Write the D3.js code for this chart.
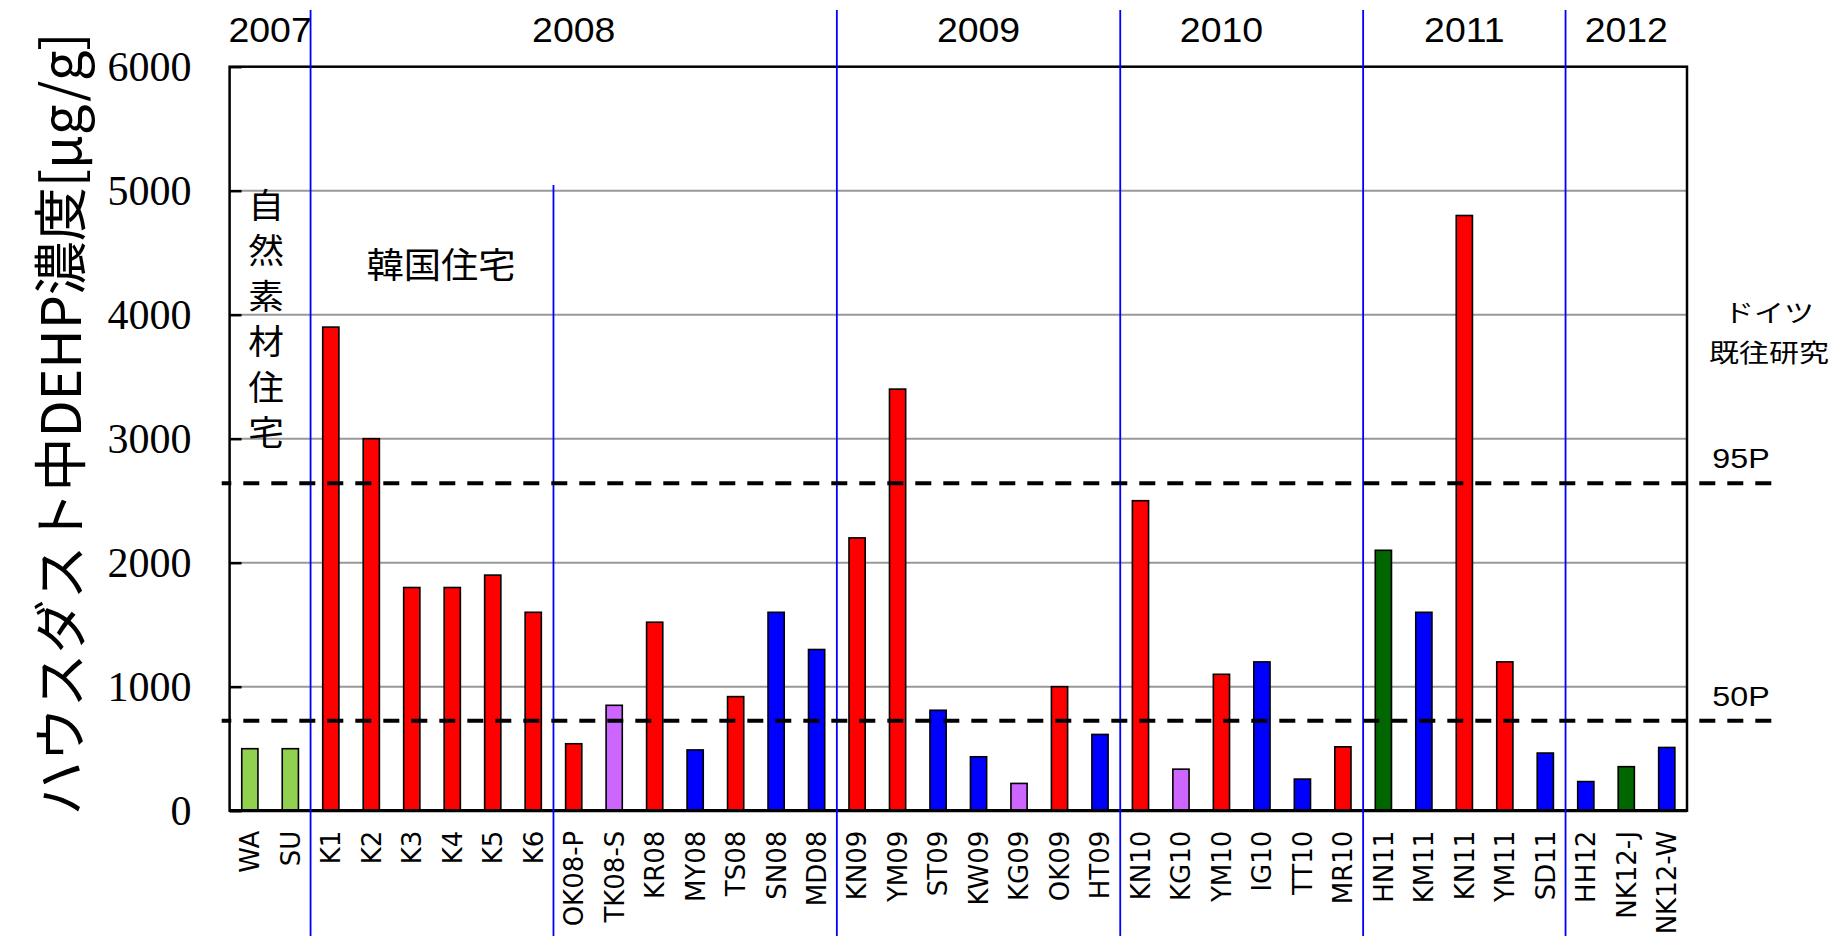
<!DOCTYPE html>
<html>
<head>
<meta charset="utf-8">
<script src="https://cdn.jsdelivr.net/npm/d3@7/dist/d3.min.js"></script>
<style>
  body { margin: 0; background: #fff; }
</style>
</head>
<body>
<div id="chart"></div>
<script>
// sample names, DEHP values [ug/g] and bar kind
var categories = ["WA", "SU", "K1", "K2", "K3", "K4", "K5", "K6", "OK08-P", "TK08-S", "KR08", "MY08",
  "TS08", "SN08", "MD08", "KN09", "YM09", "ST09", "KW09", "KG09", "OK09", "HT09", "KN10", "KG10",
  "YM10", "IG10", "TT10", "MR10", "HN11", "KM11", "KN11", "YM11", "SD11", "HH12", "NK12-J", "NK12-W"];
var values = [500, 500, 3900, 3000, 1800, 1800, 1900, 1600, 540, 850, 1520, 490,
  920, 1600, 1300, 2200, 3400, 810, 435, 220, 1000, 615, 2500, 335,
  1100, 1200, 255, 515, 2100, 1600, 4800, 1200, 465, 235, 355, 510];
var kinds = ["nat", "nat", "red", "red", "red", "red", "red", "red", "red", "purple", "red", "blue",
  "red", "blue", "blue", "red", "red", "blue", "blue", "purple", "red", "blue", "red", "purple",
  "red", "blue", "blue", "red", "dkgreen", "blue", "red", "red", "blue", "blue", "dkgreen", "blue"];
var kindColors = { nat: "#92d050", red: "#ff0000", blue: "#0000ff", purple: "#cc66ff", dkgreen: "#006600" };

var yTicks = [0, 1000, 2000, 3000, 4000, 5000, 6000];

var years = ["2007", "2008", "2009", "2010", "2011", "2012"];
var yearSpans = [["WA", "SU"], ["OK08-P", "OK08-P"], ["KN09", "HT09"], ["YM10", "YM10"], ["HN11", "SD11"], ["HH12", "NK12-W"]];
var yearStarts = ["K1", "KN09", "KN10", "HN11", "HH12"];
var koreaEnd = "OK08-P";

var refLabels = ["95P", "50P"];
var refValues = [2640, 725];

var yTitle = "ハウスダスト中DEHP濃度[μg/g]";
var naturalNote = ["自", "然", "素", "材", "住", "宅"];
var koreaNote = "韓国住宅";
var germanNote = ["ドイツ", "既往研究"];

var width = 1837, height = 936;
var plot = { left: 229.6, right: 1687, top: 66.7, bottom: 810.7 };

var svg = d3.select("#chart").append("svg")
  .attr("width", width)
  .attr("height", height);

var x = d3.scaleBand().domain(categories).range([plot.left, plot.right])
  .paddingInner(0.6).paddingOuter(0.3);
var xStep = d3.scaleBand().domain(categories).range([plot.left, plot.right]);
var y = d3.scaleLinear().domain([0, 6000]).range([plot.bottom, plot.top]);

var data = categories.map(function (c, i) {
  return { name: c, value: values[i], kind: kinds[i] };
});

// gridlines
svg.append("g").selectAll("line")
  .data(yTicks.filter(function (t) { return t > 0 && t < 6000; }))
  .enter().append("line")
  .attr("x1", plot.left).attr("x2", plot.right)
  .attr("y1", function (d) { return y(d); })
  .attr("y2", function (d) { return y(d); })
  .attr("stroke", "#999")
  .attr("stroke-width", 2);

// bars
svg.append("g").selectAll("rect")
  .data(data)
  .enter().append("rect")
  .attr("x", function (d) { return x(d.name); })
  .attr("width", x.bandwidth())
  .attr("y", function (d) { return y(d.value); })
  .attr("height", function (d) { return y(0) - y(d.value); })
  .attr("fill", function (d) { return kindColors[d.kind]; })
  .attr("stroke", "#000")
  .attr("stroke-width", 1.6);

// y axis: inward ticks, serif labels
var yAxis = svg.append("g")
  .attr("transform", "translate(" + plot.left + ",0)")
  .call(d3.axisLeft(y).tickValues(yTicks).tickSizeInner(-12).tickSizeOuter(0).tickPadding(38)
    .tickFormat(d3.format("d")));
yAxis.select(".domain").remove();
yAxis.selectAll(".tick line").attr("stroke", "#000").attr("stroke-width", 2.5);
yAxis.selectAll(".tick text")
  .attr("fill", "#000")
  .attr("font-family", "'Liberation Serif', 'Times New Roman', serif")
  .attr("font-size", 42)
  .attr("dy", "0.34em");

// x axis labels, rotated
var xAxis = svg.append("g")
  .attr("transform", "translate(0," + plot.bottom + ")")
  .call(d3.axisBottom(x).tickSize(0));
xAxis.select(".domain").remove();
xAxis.selectAll(".tick text")
  .attr("fill", "#000")
  .attr("font-family", "'DejaVu Sans', Verdana, sans-serif")
  .attr("font-size", 26)
  .attr("transform", "rotate(-90)")
  .attr("text-anchor", "end")
  .attr("x", -20)
  .attr("y", 0)
  .attr("dy", "0.36em");

// frame
svg.append("rect")
  .attr("x", plot.left).attr("y", plot.top)
  .attr("width", plot.right - plot.left).attr("height", plot.bottom - plot.top)
  .attr("fill", "none")
  .attr("stroke", "#000")
  .attr("stroke-width", 2.5);
svg.append("line")
  .attr("x1", plot.left).attr("x2", plot.right)
  .attr("y1", y(0)).attr("y2", y(0))
  .attr("stroke", "#000").attr("stroke-width", 3.2);

// year dividers
svg.append("g").selectAll("line")
  .data(yearStarts)
  .enter().append("line")
  .attr("x1", function (d) { return xStep(d); })
  .attr("x2", function (d) { return xStep(d); })
  .attr("y1", 10).attr("y2", height)
  .attr("stroke", "#0000ff").attr("stroke-width", 1.8);
svg.append("line")
  .attr("x1", xStep(koreaEnd)).attr("x2", xStep(koreaEnd))
  .attr("y1", 185).attr("y2", height)
  .attr("stroke", "#0000ff").attr("stroke-width", 1.8);

// percentile reference lines
svg.append("g").selectAll("line")
  .data(refValues)
  .enter().append("line")
  .attr("x1", 221.7).attr("x2", 1772)
  .attr("y1", function (d) { return y(d); })
  .attr("y2", function (d) { return y(d); })
  .attr("stroke", "#000")
  .attr("stroke-width", 4)
  .attr("stroke-dasharray", "16,12")
  .attr("stroke-dashoffset", 6.4);

svg.append("g").selectAll("text")
  .data(refLabels)
  .enter().append("text")
  .attr("transform", function (d, i) { return "translate(1741," + (y(refValues[i]) - 15) + ") scale(1.15,1)"; })
  .attr("text-anchor", "middle")
  .attr("font-family", "'Liberation Sans', Arial, sans-serif")
  .attr("font-size", 28)
  .text(function (d) { return d; });

// year labels
svg.append("g").selectAll("text")
  .data(years)
  .enter().append("text")
  .attr("transform", function (d, i) {
    var s = yearSpans[i];
    var cx = (xStep(s[0]) + xStep(s[1]) + xStep.step()) / 2;
    return "translate(" + cx + ",41.7) scale(1.07,1)";
  })
  .attr("text-anchor", "middle")
  .attr("font-family", "'Liberation Sans', Arial, sans-serif")
  .attr("font-size", 35)
  .text(function (d) { return d; });

// y title
svg.append("text")
  .attr("transform", "translate(57,424) rotate(-90)")
  .attr("text-anchor", "middle")
  .attr("dominant-baseline", "central")
  .attr("font-family", "'Noto Sans CJK JP', sans-serif")
  .attr("font-size", 54)
  .text(yTitle);

// annotations
svg.append("g").selectAll("text")
  .data(naturalNote)
  .enter().append("text")
  .attr("transform", function (d, i) { return "translate(266," + (218 + i * 45.4) + ") scale(1.05,1)"; })
  .attr("text-anchor", "middle")
  .attr("font-family", "'Noto Sans CJK JP', sans-serif")
  .attr("font-size", 34)
  .text(function (d) { return d; });

svg.append("text")
  .attr("transform", "translate(441,278) scale(1.05,1)")
  .attr("text-anchor", "middle")
  .attr("font-family", "'Noto Sans CJK JP', sans-serif")
  .attr("font-size", 35.5)
  .text(koreaNote);

svg.append("g").selectAll("text")
  .data(germanNote)
  .enter().append("text")
  .attr("transform", function (d, i) { return "translate(1769," + (322 + i * 40) + ") scale(1.2,1)"; })
  .attr("text-anchor", "middle")
  .attr("font-family", "'Noto Sans CJK JP', sans-serif")
  .attr("font-size", 25)
  .text(function (d) { return d; });
</script>
</body>
</html>
